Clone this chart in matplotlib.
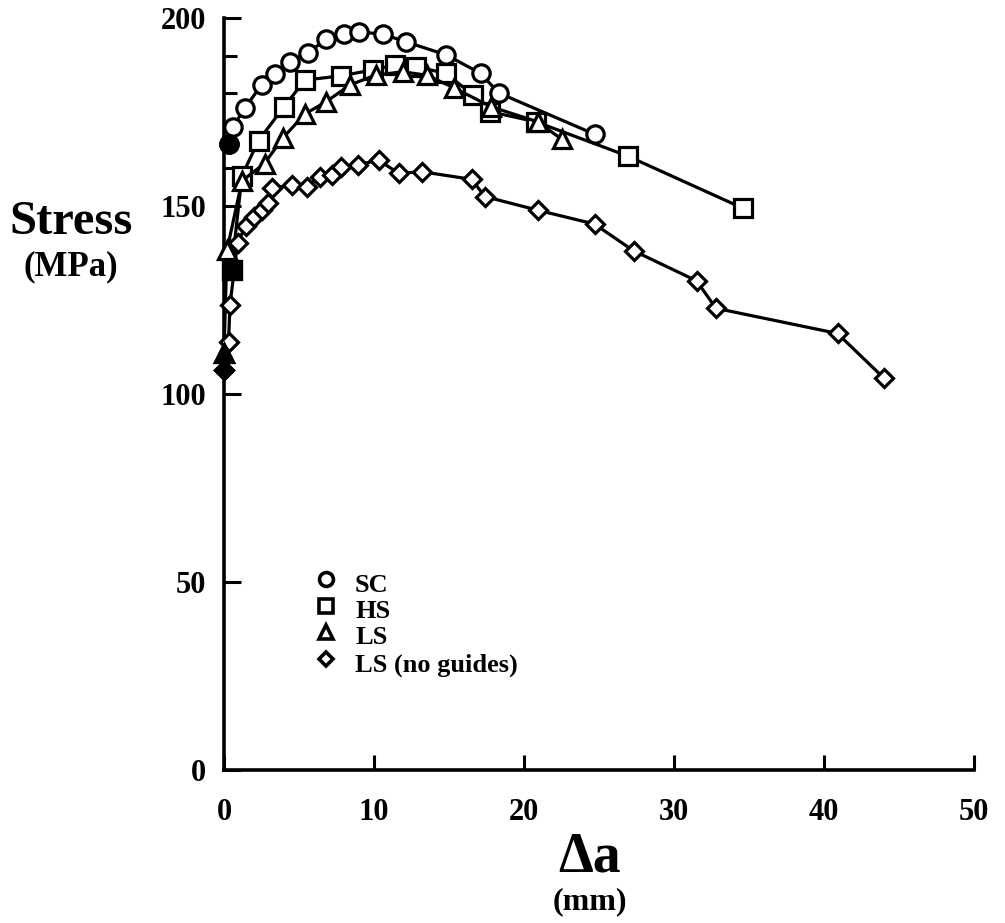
import matplotlib
matplotlib.use("Agg")
import matplotlib.pyplot as plt
from matplotlib.lines import Line2D

# ---- data ----
sc_x = [0.3, 0.6, 1.4, 2.5, 3.4, 4.4, 5.6, 6.8, 8.0, 9.0, 10.6, 12.1, 14.8, 17.1, 18.3, 24.7]
sc_y = [166.5, 171.1, 176.1, 182.2, 185.1, 188.4, 190.8, 194.3, 195.7, 196.3, 195.7, 193.7, 190.2, 185.3, 180.1, 169.1]

hs_x = [0.5, 1.2, 2.3, 4.0, 5.4, 7.8, 9.9, 11.4, 12.8, 14.8, 16.6, 17.7, 20.8, 26.9, 34.6]
hs_y = [133.0, 158.1, 167.4, 176.4, 183.5, 184.6, 186.2, 187.5, 187.0, 185.3, 179.5, 175.1, 172.4, 163.3, 149.4]

ls_x = [0.0, 0.2, 1.2, 2.7, 3.9, 5.4, 6.8, 8.4, 10.1, 11.9, 13.5, 15.3, 17.8, 20.9, 22.5]
ls_y = [111.0, 138.3, 156.7, 161.3, 168.0, 174.5, 177.7, 182.2, 184.8, 185.7, 184.8, 181.5, 176.4, 172.4, 167.8]

ng_x = [0.0, 0.3, 0.4, 0.9, 1.45, 2.0, 2.5, 2.9, 3.2, 4.5, 5.5, 6.4, 7.2, 7.8, 8.9, 10.3,
        11.65, 13.2, 16.5, 17.4, 20.9, 24.7, 27.3, 31.5, 32.8, 40.9, 44.0]
ng_y = [106.4, 113.8, 123.7, 140.2, 144.7, 147.0, 149.0, 150.8, 154.7, 155.6, 155.1, 157.8,
        158.2, 160.4, 160.9, 162.2, 158.7, 159.1, 157.1, 152.5, 148.9, 145.2, 138.1, 130.1,
        122.8, 116.1, 104.2]

legend_labels = ["SC", "HS", "LS", "LS (no guides)"]
x_ticks = [0, 10, 20, 30, 40, 50]
y_ticks = [0, 50, 100, 150, 200]
y_minor_ticks = [160, 170, 180, 190]

FONT = "Liberation Serif"

fig = plt.figure(figsize=(10.05, 9.23), dpi=100)
ax = fig.add_axes([224 / 1005, 1 - 770 / 923, 750 / 1005, 752 / 923])

series = [(sc_x, sc_y, "o", 12.5), (hs_x, hs_y, "s", 12.5),
          (ls_x, ls_y, "^", 12.5), (ng_x, ng_y, "D", 9.5)]
for xs, ys, m, ms in series:
    ax.plot(xs, ys, color="black", lw=2.3, marker=m, ms=ms, mfc="white",
            mec="black", mew=2.3, clip_on=False, zorder=3)
    # first (overlapping) point appears filled
    ax.plot(xs[:1], ys[:1], ls="none", marker=m, ms=ms, mfc="black",
            mec="black", mew=2.3, clip_on=False, zorder=4)

ax.set_xlim(0, 50)
ax.set_ylim(0, 200)
for s in ["top", "right"]:
    ax.spines[s].set_visible(False)
for s in ["left", "bottom"]:
    ax.spines[s].set_linewidth(2.6)

ax.set_xticks(x_ticks)
ax.set_yticks(y_ticks)
ax.set_yticks(y_minor_ticks, minor=True)
ax.tick_params(axis="x", which="major", direction="in", length=11, width=2.2, pad=20)
ax.tick_params(axis="y", which="major", direction="in", length=12, width=2.2, pad=13)
ax.tick_params(axis="y", which="minor", direction="in", length=9, width=2.2)
for lab in ax.get_xticklabels() + ax.get_yticklabels():
    lab.set_fontfamily(FONT)
    lab.set_fontweight("bold")
    lab.set_fontsize(22)

# axis titles
fig.text(71 / 1005, 1 - 222 / 923, "Stress", ha="center", va="center",
         family=FONT, weight="bold", fontsize=35)
fig.text(71 / 1005, 1 - 267 / 923, "(MPa)", ha="center", va="center",
         family=FONT, weight="bold", fontsize=25)
fig.text(590 / 1005, 1 - 857 / 923, "\u0394a", ha="center", va="center",
         family=FONT, weight="bold", fontsize=40)
fig.text(590 / 1005, 1 - 902 / 923, "(mm)", ha="center", va="center",
         family=FONT, weight="bold", fontsize=23)

# legend drawn manually
leg_markers = [("o", 10), ("s", 10), ("^", 10), ("D", 7.5)]
leg_rows = [579, 606, 632, 659]
for (m, ms), lab, yp in zip(leg_markers, legend_labels, leg_rows):
    fig.lines.append(Line2D([326 / 1005], [1 - yp / 923], marker=m, ms=ms,
                            mfc="white", mec="black", mew=2.6,
                            ls="none", transform=fig.transFigure))
    fig.text(355 / 1005, 1 - (yp + 6) / 923, lab, ha="left", va="center",
             family=FONT, weight="bold", fontsize=19)

fig.savefig("out.png", dpi=100)
